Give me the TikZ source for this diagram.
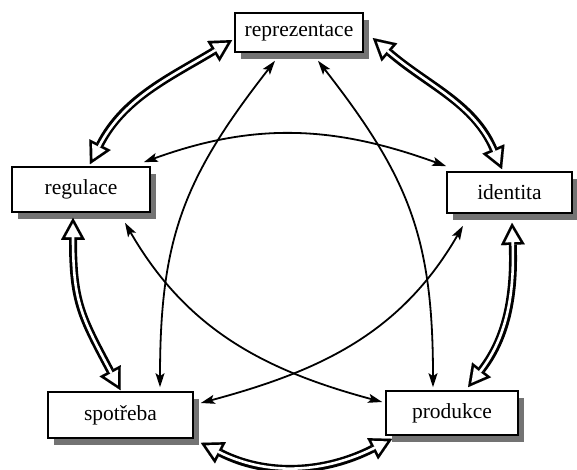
\documentclass[tikz,border=0pt]{standalone}
\usepackage{fontspec}
\setmainfont{Liberation Serif}
\usetikzlibrary{arrows.meta,shadows}
\begin{document}
\begin{tikzpicture}[x=1pt,y=1pt,
  box/.style={draw=black, line width=1.6pt, fill=white, rectangle, inner sep=0pt,
    font=\fontsize{21.5}{24}\selectfont,
    drop shadow={shadow xshift=6pt, shadow yshift=-7pt, fill=black!55, opacity=1}},
  outerhead/.style={arrows={Triangle[length=22pt,width=24pt,line width=0.01pt]-Triangle[length=22pt,width=24pt,line width=0.01pt]}},
  innerhead/.style={arrows={Triangle[length=13.7pt,width=14.9pt,sep=5.6pt,line width=0.01pt]-Triangle[length=13.7pt,width=14.9pt,sep=5.6pt,line width=0.01pt]}},
  dbl/.style={draw=white, line width=2.6pt, innerhead,
    preaction={draw=black, line width=8pt, outerhead}},
  thin/.style={line width=1.8pt,
    arrows={Stealth[length=14pt,width=9pt,inset=3pt]-Stealth[length=14pt,width=9pt,inset=3pt]}}]
\useasboundingbox (0,0) rectangle (577,469);
\node[box, minimum width=128pt, minimum height=39pt] (rep) at (299,436.5) {reprezentace};
\node[box, minimum width=138pt, minimum height=45pt] (reg) at (81,279.5) {regulace};
\node[box, minimum width=125pt, minimum height=41pt] (ide) at (509.5,276.5) {identita};
\node[box, minimum width=145pt, minimum height=46pt] (spo) at (120.5,54) {spotřeba};
\node[box, minimum width=132pt, minimum height=44pt] (pro) at (452,56) {produkce};
% double arrows between neighbours
\draw[dbl] ([xshift=-2pt,yshift=-7.5pt]rep.west) to[out=211,in=63] ([xshift=9pt,yshift=2pt]reg.north);
\draw[dbl] ([xshift=9pt,yshift=-5.5pt]rep.east) to[out=-41,in=113] ([xshift=-7.5pt,yshift=2pt]ide.north);
\draw[dbl] ([xshift=2.5pt,yshift=-9pt]ide.south) to[out=272,in=52] ([xshift=16pt,yshift=3pt]pro.north);
\draw[dbl] ([xshift=7pt,yshift=-4pt]spo.south east) to[out=-27,in=207] ([xshift=7pt,yshift=-3pt]pro.south west);
\draw[dbl] ([xshift=-8pt,yshift=-5pt]reg.south) to[out=270,in=118,looseness=1.2] ([yshift=1pt]spo.north);
% thin arrows across
\draw[thin] ([xshift=-24pt,yshift=-8pt]rep.south) to[out=232,in=90,looseness=1.1] ([xshift=39.5pt,yshift=4pt]spo.north);
\draw[thin] ([xshift=19pt,yshift=-8pt]rep.south) to[out=308,in=90,looseness=1.1] ([xshift=-19pt,yshift=3pt]pro.north);
\draw[thin] ([xshift=-7pt,yshift=4pt]reg.north east) to[out=20,in=160] ([yshift=5pt]ide.north west);
\draw[thin] ([xshift=44pt,yshift=-10pt]reg.south) to[out=300,in=165] ([xshift=-3pt,yshift=11pt]pro.west);
\draw[thin] ([xshift=-46.5pt,yshift=-12pt]ide.south) to[out=240,in=15] ([xshift=7pt,yshift=12pt]spo.east);
\end{tikzpicture}
\end{document}
